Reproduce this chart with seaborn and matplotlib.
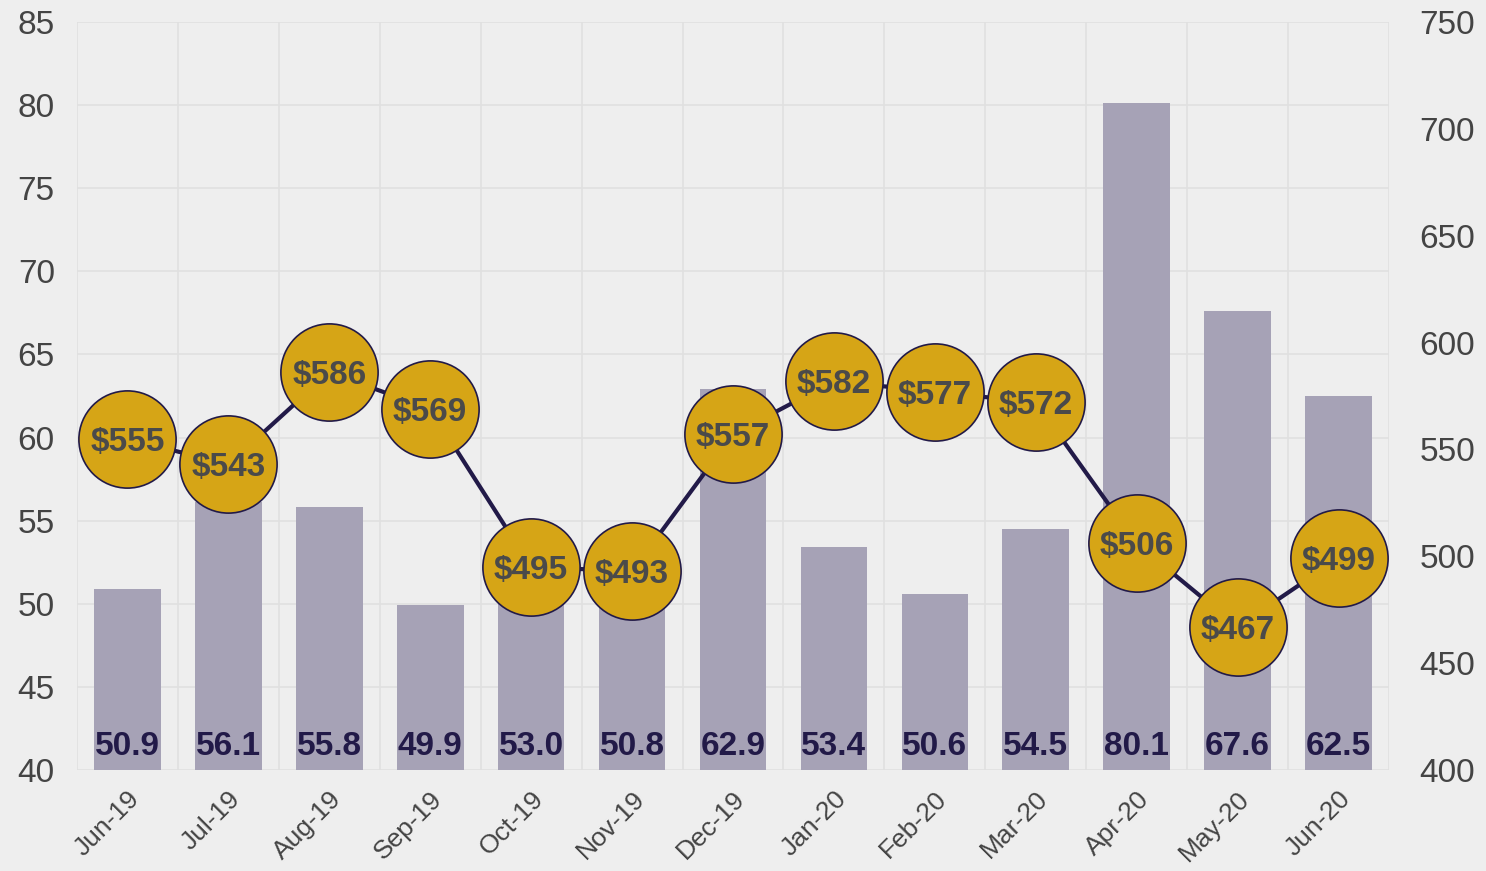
import matplotlib
matplotlib.use("Agg")
import matplotlib.pyplot as plt
import seaborn as sns
import pandas as pd
import numpy as np

# data
months = ['Jun-19', 'Jul-19', 'Aug-19', 'Sep-19', 'Oct-19', 'Nov-19', 'Dec-19',
          'Jan-20', 'Feb-20', 'Mar-20', 'Apr-20', 'May-20', 'Jun-20']
bar_vals = [50.9, 56.1, 55.8, 49.9, 53.0, 50.8, 62.9, 53.4, 50.6, 54.5, 80.1, 67.6, 62.5]
price_vals = [555, 543, 586, 569, 495, 493, 557, 582, 577, 572, 506, 467, 499]

df = pd.DataFrame({'month': months, 'bars': bar_vals, 'price': price_vals})

bg = '#eeeeee'
grid_c = '#e0e0e0'
bar_c = '#a6a2b6'
navy = '#221a48'
gold = '#d6a516'

sns.set_theme(style='white')
plt.rcParams['font.family'] = ['Liberation Sans', 'DejaVu Sans']

fig = plt.figure(figsize=(14.86, 8.71), dpi=100, facecolor=bg)
ax = fig.add_axes([0.0518, 0.1160, 0.8829, 0.8587])
ax.set_facecolor(bg)

sns.barplot(data=df, x='month', y='bars', color=bar_c, width=0.66, saturation=1,
            edgecolor='none', linewidth=0, ax=ax, zorder=2)
ax.set_ylim(40, 85)
ax.set_xlim(-0.5, len(months) - 0.5)
ax.set_yticks(np.arange(40, 86, 5))
ax.set_xlabel('')
ax.set_ylabel('')

# bar value labels near the bottom
for i, v in enumerate(bar_vals):
    ax.text(i, 41.6, f'{v:.1f}', ha='center', va='center_baseline', fontsize=24,
            fontweight='bold', color=navy, zorder=3)

# grid: horizontal on ticks, vertical on category boundaries
ax.set_xticks(np.arange(-0.5, len(months)), minor=True)
ax.grid(axis='y', which='major', color=grid_c, lw=1.2, zorder=0)
ax.grid(axis='x', which='minor', color=grid_c, lw=1.2, zorder=0)
ax.set_axisbelow(True)
for s in ax.spines.values():
    s.set_visible(False)
ax.tick_params(axis='x', which='major', length=0, pad=12)
ax.tick_params(axis='x', which='minor', length=10, color=grid_c, width=1.2)
ax.tick_params(axis='y', length=0, pad=16, labelsize=24, labelcolor='#444444')
ax.set_xticks(range(len(months)))
ax.set_xticklabels(months, rotation=45, ha='right', rotation_mode='anchor',
                   fontsize=19, color='#444444')

# price line on the right axis
ax2 = ax.twinx()
sns.lineplot(x=list(range(len(months))), y=price_vals, ax=ax2, color=navy, lw=3,
             marker='o', markersize=70, markerfacecolor=gold,
             markeredgecolor=navy, markeredgewidth=1.2, zorder=4)
ax2.set_ylim(400, 750)
ax2.set_yticks(np.arange(400, 751, 50))
for s in ax2.spines.values():
    s.set_visible(False)
ax2.tick_params(axis='y', length=0, pad=22, labelsize=24, labelcolor='#444444')
ax2.grid(False)
for i, v in enumerate(price_vals):
    ax2.text(i, v, f'${v}', ha='center', va='center_baseline', fontsize=24,
             fontweight='bold', color='#4a4a4a', zorder=5)

fig.savefig('out.png', dpi=100, facecolor=bg)
